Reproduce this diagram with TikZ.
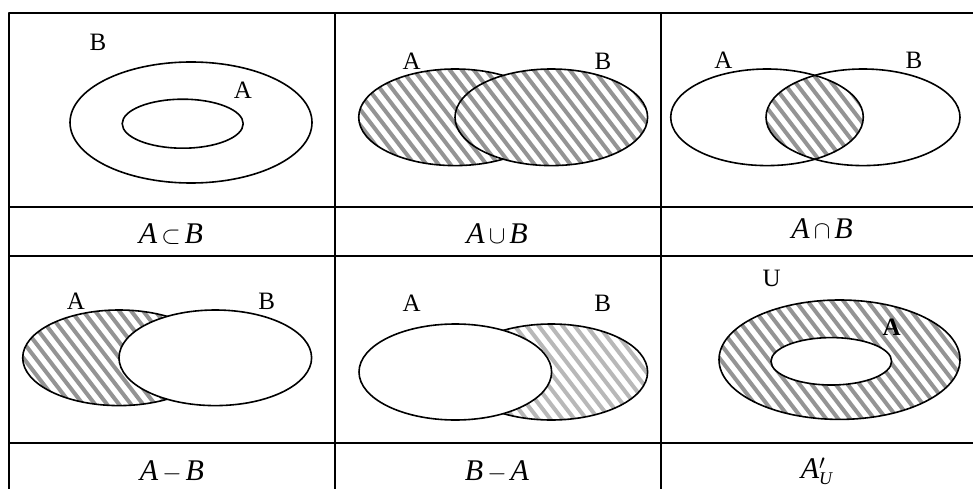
\documentclass[tikz,border=0pt]{standalone}
\usepackage{fontspec}
\usepackage{amsmath}
\setmainfont{Liberation Serif}
\newcommand{\hatchreg}[4]{%
  \pgfmathtruncatemacro{\kmin}{floor((#1 - #4/1.3)/12)-1}%
  \pgfmathtruncatemacro{\kmax}{ceil((#3 - #2/1.3)/12)+1}%
  \foreach \k in {\kmin,...,\kmax}{\draw[hatchline] ({\k*12 + #2/1.3}, #2) -- ({\k*12 + #4/1.3}, #4);}%
}
\newcommand{\opsym}[1]{\hspace{4pt}{\fontsize{24}{24}\selectfont$#1$}\hspace{4pt}}
\begin{document}
\begin{tikzpicture}[x=1pt,y=-1pt,line join=round]
\tikzset{
  gridline/.style={line width=2.2pt},
  venn/.style={line width=1.6pt},
  hatchline/.style={line width=4pt, draw=black!42},
  lighthatch/.style={hatchline/.style={line width=4pt, draw=black!28}},
  lbl/.style={font=\fontsize{25}{28}\selectfont, inner sep=0pt},
  captext/.style={font=\fontsize{30}{34}\selectfont, inner sep=0pt}
}
\clip (0,0) rectangle (973,489);
\fill[white] (0,0) rectangle (973,489);

% table
\draw[gridline] (990,13) -- (9,13) -- (9,495);
\draw[gridline] (335,13) -- (335,495);
\draw[gridline] (661,13) -- (661,495);
\draw[gridline] (9,207) -- (990,207);
\draw[gridline] (9,256) -- (990,256);
\draw[gridline] (9,443) -- (990,443);

% cell 1: A subset B
\draw[venn] (191,122.5) ellipse [x radius=121pt, y radius=60.5pt];
\draw[venn] (182.7,123.7) ellipse [x radius=60.5pt, y radius=24.5pt];
\node[lbl] (lB1) at (98,42) {B};
\node[lbl] (lA1) at (243,90) {A};

% cell 2: union
\begin{scope}
  \clip (455,117.3) ellipse [x radius=96.3pt, y radius=48.3pt];
  \hatchreg{355}{65}{555}{170}
\end{scope}
\draw[venn] (455,117.3) ellipse [x radius=96.3pt, y radius=48.3pt];
\fill[white] (551.3,117.3) ellipse [x radius=96.3pt, y radius=48.3pt];
\begin{scope}
  \clip (551.3,117.3) ellipse [x radius=96.3pt, y radius=48.3pt];
  \hatchreg{450}{65}{652}{170}
\end{scope}
\draw[venn] (551.3,117.3) ellipse [x radius=96.3pt, y radius=48.3pt];
\node[lbl] (lA2) at (411.7,61.7) {A};
\node[lbl] (lB2) at (603,61.7) {B};

% cell 3: intersection
\begin{scope}
  \clip (767,117.3) ellipse [x radius=96.3pt, y radius=48.3pt];
  \clip (863,117.3) ellipse [x radius=97pt, y radius=48.3pt];
  \hatchreg{760}{65}{870}{170}
\end{scope}
\draw[venn] (767,117.3) ellipse [x radius=96.3pt, y radius=48.3pt];
\draw[venn] (863,117.3) ellipse [x radius=97pt, y radius=48.3pt];
\node[lbl] (lA3) at (723.3,60) {A};
\node[lbl] (lB3) at (914,60.7) {B};

% cell 4: A - B
\begin{scope}
  \clip (119,357.8) ellipse [x radius=96.3pt, y radius=47.8pt];
  \hatchreg{18}{305}{220}{410}
\end{scope}
\draw[venn] (119,357.8) ellipse [x radius=96.3pt, y radius=47.8pt];
\fill[white] (215.3,357.8) ellipse [x radius=96.3pt, y radius=47.8pt];
\draw[venn] (215.3,357.8) ellipse [x radius=96.3pt, y radius=47.8pt];
\node[lbl] (lA4) at (76,301.7) {A};
\node[lbl] (lB4) at (266.7,301.7) {B};

% cell 5: B - A
\begin{scope}[lighthatch]
  \clip (551.3,372) ellipse [x radius=96.3pt, y radius=48pt];
  \hatchreg{450}{320}{652}{425}
\end{scope}
\draw[venn] (551.3,372) ellipse [x radius=96.3pt, y radius=48pt];
\fill[white] (455.3,372) ellipse [x radius=96.3pt, y radius=48pt];
\draw[venn] (455.3,372) ellipse [x radius=96.3pt, y radius=48pt];
\node[lbl] (lA5) at (411.7,303.3) {A};
\node[lbl] (lB5) at (602.7,303.3) {B};

% cell 6: complement
\begin{scope}
  \clip (839.5,359.7) ellipse [x radius=120.5pt, y radius=59.7pt];
  \hatchreg{715}{297}{965}{423}
\end{scope}
\draw[venn] (839.5,359.7) ellipse [x radius=120.5pt, y radius=59.7pt];
\fill[white] (831.3,361.3) ellipse [x radius=60.3pt, y radius=23.7pt];
\draw[venn] (831.3,361.3) ellipse [x radius=60.3pt, y radius=23.7pt];
\node[lbl] (lU6) at (771.7,278.3) {U};
\node[lbl] (lA6) at (891.7,327.3) {\textbf{A}};

% captions
\node[captext] (c1) at (171,234.5) {\textit{A}\opsym{\subset}\textit{B}};
\node[captext] (c2) at (497,233.5) {\textit{A}\opsym{\cup}\textit{B}};
\node[captext] (c3) at (822,229) {\textit{A}\opsym{\cap}\textit{B}};
\node[captext] (c4) at (172,472) {\textit{A}\opsym{-}\textit{B}};
\node[captext] (c5) at (497,471.3) {\textit{B}\opsym{-}\textit{A}};
\node[captext, anchor=base] (c6) at (817,478.3) {\textit{A}\rlap{$'$}\raisebox{-6pt}{\fontsize{18}{18}\selectfont\textit{U}}};
\end{tikzpicture}
\end{document}
